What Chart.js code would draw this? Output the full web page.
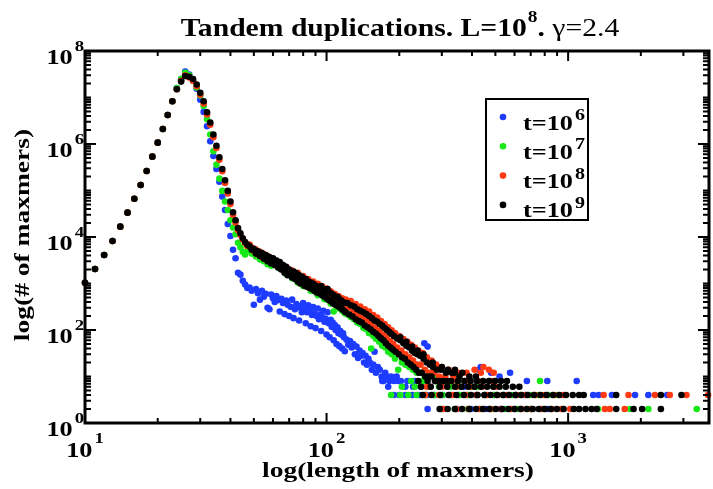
<!DOCTYPE html>
<html>
<head>
<meta charset="utf-8">
<script src="https://cdn.jsdelivr.net/npm/chart.js@4.4.0/dist/chart.umd.min.js"></script>
<style>
  html, body { margin: 0; padding: 0; background: #fff; }
  #wrap { width: 713px; height: 489px; }
</style>
</head>
<body>
<div id="wrap"><canvas id="maxmerChart" width="713" height="489"></canvas></div>
<script>
// axis ticks (exponents are drawn as superscripts)
const xMajorTicks = [10, 100, 1000];
const xTickExps = ['1', '2', '3'];
const yMajorTicks = [1, 1e2, 1e4, 1e6, 1e8];
const yTickExps = ['0', '2', '4', '6', '8'];

// legend: t = 10^6 ... 10^9
const seriesExps = ['6', '7', '8', '9'];
const seriesColors = ['#1e3cff', '#18e818', '#ff3a12', '#000000'];

// rising edge is the same for every t
const risingEdge = [[10,1040],[11,2050],[12,4100],[13,8200],[14,16700],[15,33400],[16,66500],[17,131000],[18,262000],[19,534000],[20,1070000],[21,2100000],[22,4200000],[23,8300000]];

// t = 10^6
const t6Points = [[24,1.6e7],[25,2.5e7],[26,3.6e7],[27,3.1e7],[28,2.3e7],[29,1.55e7],[30,9.0e6],[31,4.9e6],[32,2.4e6],[33,1.15e6],[34,5.5e5],[35,2.9e5],[36,1.55e5],[37,7.4e4],[38,3.8e4],[39,1.9e4],[40,1.05e4],[41,5300],[42,3500],[43,1700],[44,1550],[45,1150],[46,950],[47,800],
  [48,820],[49,700],[50,350],[51,760],[52,620],[53,450],[54,700],[55,520],[56,600],[57,300],[58,280],[59,580],[60,480],[61,400],[62,540],[63,440],[64,250],[65,470],[66,380],[67,220],[68,430],[69,350],[70,200],[71,315],[72,450],[73,180],[74,280],[75,360],[76,330],[77,160],[78,300],[79,240],[80,380],[81,280],[82,140],[83,240],[84,340],[85,260],[86,120],[87,210],[88,310],[89,230],[90,110],[91,200],[92,290],[93,170],[94,215],[95,95],[96,190],[97,260],[98,150],[99,175],[100,80],[101,240],[102,140],[103,70],[104,165],[105,117],[106,145],[107,60],[108,130],[109,100],[110,50],[111,115],[112,85],[113,45],[114,95],[115,80],[116,40],[117,85],[118,70],[119,35],[121,62],[123,48],[125,58],[127,42],[129,50],[131,30],[133,44],[135,25],[137,36],[139,28],[141,32],[143,20],[145,28],[147,18],[149,24],[151,20],[154,14],[156,18],[158,34],[160,12],[163,16],[166,14],[169,10],[172,8],[175,12],[178,10],[182,8],[185,10],[190,8],[195,10],[198,8],
  [254,52],[262,44],[428,14],[435,16],[480,12],[575,12],[520,10],
  [170,8],[203,8],[216,8],[232,8],[675,8],[820,8],[1085,8],
  [180,6],[212,6],[228,6],[246,6],[266,6],[370,6],[410,6],
  [190,4],[200,4],[212,4],[226,4],[242,4],[260,4],[280,4],[302,4],[326,4],[352,4],[382,4],[416,4],[452,4],[494,4],[545,4],[605,4],[665,4],[1270,4],[1337,4],[1518,4],[1892,4],[2148,4],[2572,4],
  [262,2],[300,2],[345,2],[395,2],[455,2],[525,2],[605,2],[700,2],[820,2]];

// t = 10^7
const t7Points = [[24,1.6e7],[25,2.5e7],[26,3.4e7],[27,3.0e7],[28,2.3e7],[29,1.65e7],[30,1.1e7],[31,6.6e6],[32,3.4e6],[33,1.6e6],[34,7.0e5],[35,3.6e5],[36,1.8e5],[37,9.8e4],[38,5.8e4],[39,3.8e4],[40,2.3e4],[41,1.6e4],[42,1.15e4],[43,7500],[44,6000],[45,4800],[46,4200],
  [47,5000],[48,5400],[49,4400],[50,4800],[51,3800],[52,4300],[53,3300],[54,3800],[55,3000],[56,3500],[57,2600],[58,3100],[59,2400],[60,2900],[62,2500],[64,2100],[66,1950],[68,1600],[70,1550],[72,1300],[74,1250],[76,1050],[78,1000],[80,880],[83,850],[86,700],[89,680],[92,560],[95,560],[98,460],[101,450],[104,370],[107,250],[110,330],[113,290],[116,260],[119,230],[122,215],[126,190],[130,170],[134,145],[138,135],[142,112],[146,104],[150,85],[153,40],[156,75],[160,65],[165,56],[170,46],[175,42],[180,34],[186,30],[192,24],[198,14],[205,20],[212,18],[220,16],[228,14],[236,12],[245,12],[255,10],[265,10],[280,10],[300,8],
  [224,8],[252,8],[282,8],[315,8],[348,8],[385,8],[765,8],
  [205,6],[232,6],[262,6],[292,6],[325,6],[358,6],[395,6],[420,6],
  [185,4],[202,4],[218,4],[236,4],[256,4],[278,4],[302,4],[328,4],[356,4],[388,4],[420,4],[456,4],[495,4],[538,4],[585,4],[636,4],[692,4],[755,4],[825,4],[900,4],
  [300,2],[340,2],[385,2],[435,2],[490,2],[552,2],[620,2],[700,2],[790,2],[1331,2],[1806,2],[2148,2],[3407,2]];

// t = 10^8
const t8Points = [[24,1.5e7],[25,2.3e7],[26,3.0e7],[27,2.7e7],[28,2.3e7],[29,1.75e7],[30,1.15e7],[31,7.4e6],[32,4.3e6],[33,2.6e6],[34,1.4e6],[35,8.2e5],[36,4.6e5],[37,2.6e5],[38,1.45e5],[39,8.6e4],[40,5.1e4],[41,3.0e4],[42,2.05e4],[43,1.4e4],[44,1.1e4],[45,8800],[46,7400],
  [47,6400],[48,6900],[49,5900],[50,5000],[51,5400],[52,4200],[53,4800],[54,3700],[55,4300],[56,3300],[57,3900],[58,3000],[59,3500],[60,2800],[61,3200],[62,2500],[63,2900],[64,2300],[65,2600],[66,2000],[67,2300],[68,1800],[69,2100],[70,1650],[72,1900],[74,1550],[76,1700],[78,1300],[80,1450],[82,1100],[84,1250],[86,950],[88,1100],[90,830],[92,980],[94,720],[96,860],[98,640],[100,780],[102,560],[104,680],[106,500],[108,600],[110,440],[112,540],[114,400],[116,480],[118,360],[120,450],[123,300],[126,420],[129,250],[132,360],[135,210],[138,320],[141,185],[144,280],[147,160],[150,250],[153,135],[156,210],[159,112],[162,185],[165,95],[168,155],[171,80],[174,135],[177,68],[180,115],[183,58],[186,98],[189,50],[192,86],[196,42],[200,74],[204,36],[208,64],[212,30],[216,56],[220,26],[224,48],[228,22],[232,42],[236,18],[240,36],[245,18],[250,32],[255,14],[260,26],[266,12],[272,22],[278,12],[284,18],[292,10],[300,16],[310,10],[320,14],[335,10],[350,12],[380,12],[410,14],[435,12],[446,16],[470,14],[492,12],
  [290,8],[330,8],[375,8],[425,8],[480,8],
  [260,6],[300,6],[345,6],[392,6],[440,6],[500,6],
  [256,4],[292,4],[334,4],[376,4],[418,4],[462,4],[510,4],[560,4],[612,4],[668,4],[730,4],[800,4],[875,4],[955,4],[1403,4],[1778,4],[2287,4],[2636,4],[3090,4],[3794,4],
  [305,2],[345,2],[388,2],[430,2],[478,2],[528,2],[582,2],[640,2],[705,2],[775,2],[855,2],[940,2],[1020,2],[1420,2],[1488,2],[1715,2]];

// t = 10^9
const t9Points = [[24,1.5e7],[25,2.2e7],[26,2.9e7],[27,2.8e7],[28,2.5e7],[29,1.9e7],[30,1.26e7],[31,8.3e6],[32,4.8e6],[33,2.9e6],[34,1.6e6],[35,9.2e5],[36,5.2e5],[37,2.9e5],[38,1.66e5],[39,9.8e4],[40,5.8e4],[41,3.4e4],[42,2.3e4],[43,1.55e4],[44,1.2e4],[45,9400],[46,7800],
  [47,6800],[48,6300],[49,5300],[50,5600],[51,4400],[52,4900],[53,3900],[54,4500],[55,3400],[56,4100],[57,3000],[58,3700],[59,2700],[60,3500],[61,2500],[62,3100],[63,2200],[64,2900],[65,2000],[66,2500],[67,1700],[68,2300],[69,1500],[70,2000],[71,1600],[72,1350],[73,1800],[74,1250],[75,1650],[76,1100],[77,1500],[78,1000],[79,1400],[80,1200],[81,900],[82,1250],[83,850],[84,1100],[85,800],[86,1050],[87,760],[88,980],[89,700],[90,900],[91,640],[92,820],[94,600],[95,880],[96,560],[97,760],[98,520],[99,700],[100,480],[101,760],[102,440],[103,640],[104,420],[105,600],[106,380],[107,560],[108,360],[109,500],[110,340],[111,520],[112,320],[113,460],[114,300],[115,430],[116,280],[117,400],[118,260],[119,380],
  [120,240],[122,380],[124,215],[126,340],[128,195],[130,320],[132,170],[134,280],[136,155],[138,260],[140,145],[142,240],[144,125],[146,220],[148,115],[150,200],[152,104],[154,180],[156,92],[158,160],[160,84],[162,150],[164,74],[166,135],[168,66],[170,124],[172,60],[174,110],[176,52],[178,100],[180,46],[182,90],[184,42],[186,82],[188,38],[190,74],[193,34],[196,66],[199,30],[202,60],[205,26],[208,52],[211,24],[214,46],[217,20],[220,42],[223,18],[226,36],[229,16],[232,32],[235,14],[238,30],[241,12],[244,28],[248,12],[252,24],[256,10],[260,20],[264,10],[268,18],[272,10],[276,16],[281,8],[286,14],[292,8],[298,14],[305,8],[312,12],[320,8],[330,12],[340,12],[355,10],
  [202,70],[214,56],[226,44],[238,36],[252,30],[275,20],[300,16],[318,14],[340,14],[365,12],[390,10],[415,10],
  [240,8],[262,8],[284,8],[306,8],[328,8],[350,8],[372,8],[395,8],[420,8],[445,8],[470,8],[498,8],[528,8],[558,8],
  [246,6],[270,6],[294,6],[316,6],[340,6],[362,6],[386,6],[410,6],[436,6],[462,6],[490,6],[520,6],[552,6],[590,6],[628,6],
  [250,4],[272,4],[296,4],[320,4],[345,4],[370,4],[396,4],[422,4],[450,4],[478,4],[508,4],[538,4],[570,4],[605,4],[640,4],[680,4],[722,4],[768,4],[815,4],[866,4],[920,4],[980,4],[1045,4],[1110,4],[1160,4],[1581,4],[2421,4],[2946,4],
  [294,2],[317,2],[340,2],[364,2],[390,2],[416,2],[444,2],[472,2],[502,2],[534,2],[566,2],[600,2],[636,2],[674,2],[714,2],[756,2],[800,2],[848,2],[898,2],[958,2],[1055,2],[1110,2],[1180,2],[1250,2],[1313,2],[1582,2],[1866,2],[2025,2],[2421,2]];

const allSeries = [t6Points, t7Points, t8Points, t9Points];

// the original text is a wide Times, so glyphs get stretched sideways
const SX = 1.25;
function serif(size, bold) {
  return (bold ? 'bold ' : '') + size + 'px "Liberation Serif", "Times New Roman", serif';
}
function runsWidth(ctx, runs, sx) {
  let w = 0;
  runs.forEach(r => { ctx.font = r.font; w += (r.gap || 0) + ctx.measureText(r.text).width * sx; });
  return w;
}
function drawRuns(ctx, runs, x, y, align, sx) {
  sx = sx || SX;
  const w = runsWidth(ctx, runs, sx);
  let cx = align === 'center' ? x - w / 2 : (align === 'right' ? x - w : x);
  runs.forEach(r => {
    ctx.font = r.font;
    cx += r.gap || 0;
    ctx.save();
    ctx.translate(cx, y - (r.rise || 0));
    ctx.scale(sx, 1);
    ctx.fillText(r.text, 0, 0);
    ctx.restore();
    cx += ctx.measureText(r.text).width * sx;
  });
}
function powRuns(base, exp, size, supSize, rise) {
  return [{ text: base, font: serif(size, true) }, { text: exp, font: serif(supSize, true), rise: rise, gap: 2 }];
}

function minorTicks(lo, hi) {
  const out = [];
  for (let p = lo; p < hi; p *= 10) {
    for (let m = 2; m <= 9; m++) out.push(m * p);
  }
  return out;
}

const framePlugin = {
  id: 'frame',
  afterDatasetsDraw(chart) {
    const { ctx, chartArea: a, scales: { x, y } } = chart;
    ctx.save();
    ctx.strokeStyle = '#000';
    ctx.fillStyle = '#000';

    // ticks, pointing inward on all four sides
    ctx.lineWidth = 2;
    ctx.beginPath();
    const xt = (v, len) => {
      const px = x.getPixelForValue(v);
      ctx.moveTo(px, a.bottom); ctx.lineTo(px, a.bottom - len);
      ctx.moveTo(px, a.top); ctx.lineTo(px, a.top + len);
    };
    const yt = (v, len) => {
      const py = y.getPixelForValue(v);
      ctx.moveTo(a.left, py); ctx.lineTo(a.left + len, py);
      ctx.moveTo(a.right, py); ctx.lineTo(a.right - len, py);
    };
    xMajorTicks.forEach(v => xt(v, 10));
    minorTicks(10, 3830).filter(v => v < 3830).forEach(v => xt(v, 5));
    yMajorTicks.forEach(v => yt(v, 11));
    [10, 1e3, 1e5, 1e7].concat(minorTicks(1, 1e8)).forEach(v => yt(v, 6));
    ctx.stroke();

    ctx.lineWidth = 3;
    ctx.strokeRect(a.left, a.top, a.right - a.left, a.bottom - a.top);

    ctx.textAlign = 'left';
    ctx.textBaseline = 'alphabetic';

    // tick labels
    yMajorTicks.forEach((v, i) => {
      drawRuns(ctx, powRuns('10', yTickExps[i], 21, 15, 13), 84, y.getPixelForValue(v) + 13, 'right');
    });
    xMajorTicks.forEach((v, i) => {
      drawRuns(ctx, powRuns('10', xTickExps[i], 21, 15, 14), x.getPixelForValue(v), 457, 'center');
    });

    // title
    drawRuns(ctx, [
      { text: 'Tandem duplications. L=10', font: serif(26, true) },
      { text: '8', font: serif(17, true), rise: 14, gap: 1 },
      { text: '. ', font: serif(26, true) },
      { text: '\u03b3=2.4', font: serif(26, false) }
    ], 400, 36, 'center', 1.14);

    // axis titles
    drawRuns(ctx, [{ text: 'log(length of maxmers)', font: serif(22, true) }], 398, 477, 'center');
    ctx.save();
    ctx.translate(29, 235);
    ctx.rotate(-Math.PI / 2);
    drawRuns(ctx, [{ text: 'log(# of maxmers)', font: serif(22, true) }], 0, 0, 'center');
    ctx.restore();

    // legend box
    ctx.lineWidth = 2;
    ctx.strokeRect(486, 99, 102, 121);
    seriesExps.forEach((e, i) => {
      const cy = 117 + i * 29.3;
      ctx.fillStyle = seriesColors[i];
      ctx.beginPath();
      ctx.arc(503, cy, 3.3, 0, Math.PI * 2);
      ctx.fill();
      ctx.fillStyle = '#000';
      drawRuns(ctx, powRuns('t=10', e, 21, 16, 9.5), 523, cy + 12.5, 'left');
    });
    ctx.restore();
  }
};

const chartCtx = document.getElementById('maxmerChart');
new Chart(chartCtx, {
  type: 'scatter',
  data: {
    datasets: allSeries.map((pts, i) => ({
      label: 't=10^' + seriesExps[i],
      data: risingEdge.concat(pts).map(p => ({ x: p[0], y: p[1] })),
      backgroundColor: seriesColors[i],
      borderWidth: 0,
      pointRadius: 3.3,
      order: 3 - i,
      clip: false
    }))
  },
  options: {
    responsive: false,
    animation: false,
    devicePixelRatio: 1,
    events: [],
    layout: { padding: { left: 85, top: 51, right: 1.5, bottom: 66 } },
    scales: {
      x: { type: 'logarithmic', min: 10, max: 3830, display: false },
      y: { type: 'logarithmic', min: 1, max: 1e8, display: false }
    },
    plugins: {
      legend: { display: false },
      tooltip: { enabled: false }
    }
  },
  plugins: [framePlugin]
});
</script>
</body>
</html>
